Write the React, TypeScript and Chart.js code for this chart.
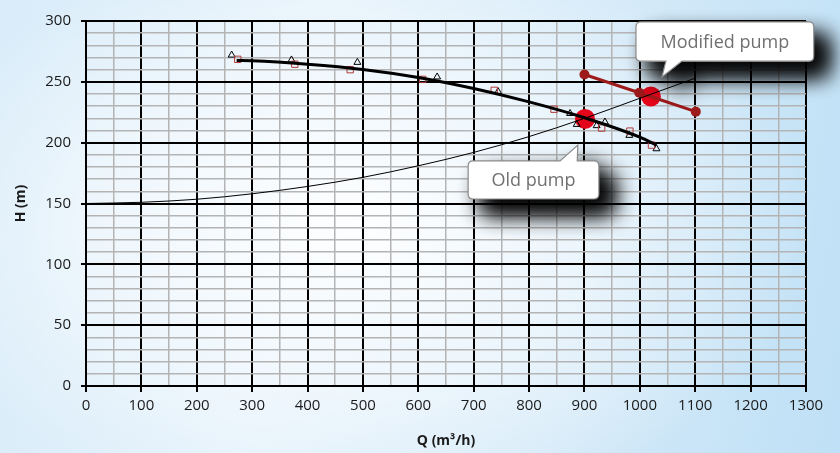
import React, { useEffect, useRef } from "react";
import { Chart, registerables } from "chart.js";

Chart.register(...registerables);

// Fitted old-pump curve (Q, H)
const fitQ = [272, 300, 400, 500, 600, 700, 800, 900, 1000, 1030];
const fitH = [267.5, 267.3, 264.5, 260.2, 253.6, 244.5, 233.5, 220.5, 204.5, 198];

// Measured points, series A (triangles)
const triQ = [263, 371, 490, 634, 744, 874, 886, 922, 937, 981, 1030];
const triH = [272, 268, 266, 254, 242, 224, 215, 214, 217, 206, 195];

// Measured points, series B (squares)
const sqQ = [274, 377, 477, 608, 737, 845, 931, 982, 1021];
const sqH = [268.5, 264.5, 260, 252, 243, 227.5, 212, 209.5, 198];

// System curve
const sysQ = [0, 100, 200, 300, 400, 500, 600, 700, 800, 900, 1000, 1100];
const sysH = [150, 151, 153.5, 158, 164, 171.5, 181, 192, 205, 220, 236.5, 253];

// Modified pump curve
const modQ = [900, 999, 1101];
const modH = [256, 241, 225.5];

// Operating points
const opQ = [901, 1020];
const opH = [219.5, 238];

// Callouts (data units): label, box [x1, x2, yTop, yBottom], tip [x, y], pointer base [x1, x2], side
const calloutLabels = ["Old pump", "Modified pump"];
const calloutBoxes = [
  [690, 926, 185, 153.7],
  [993, 1314, 299.2, 267],
];
const calloutTips = [
  [888, 198],
  [1040, 254],
];
const calloutBases = [
  [856, 887],
  [1047, 1076],
];
const calloutSides = ["top", "bottom"];

const xTicksMax = 1300;
const yTicksMax = 300;

const zip = (xs: number[], ys: number[]) => xs.map((x, i) => ({ x, y: ys[i] }));

const calloutPlugin = {
  id: "callouts",
  afterDatasetsDraw(chart: any) {
    const { ctx, scales } = chart;
    const sx = scales.x;
    const sy = scales.y;
    calloutLabels.forEach((label, i) => {
      const [bx1, bx2, byT, byB] = calloutBoxes[i];
      const l = sx.getPixelForValue(bx1);
      const r = sx.getPixelForValue(bx2);
      const t = sy.getPixelForValue(byT);
      const b = sy.getPixelForValue(byB);
      const tipX = sx.getPixelForValue(calloutTips[i][0]);
      const tipY = sy.getPixelForValue(calloutTips[i][1]);
      const p1 = sx.getPixelForValue(calloutBases[i][0]);
      const p2 = sx.getPixelForValue(calloutBases[i][1]);
      const rad = 5;
      const path = () => {
        ctx.beginPath();
        ctx.moveTo(l + rad, t);
        if (calloutSides[i] === "top") {
          ctx.lineTo(p1, t);
          ctx.lineTo(tipX, tipY);
          ctx.lineTo(p2, t);
        }
        ctx.lineTo(r - rad, t);
        ctx.quadraticCurveTo(r, t, r, t + rad);
        ctx.lineTo(r, b - rad);
        ctx.quadraticCurveTo(r, b, r - rad, b);
        if (calloutSides[i] === "bottom") {
          ctx.lineTo(p2, b);
          ctx.lineTo(tipX, tipY);
          ctx.lineTo(p1, b);
        }
        ctx.lineTo(l + rad, b);
        ctx.quadraticCurveTo(l, b, l, b - rad);
        ctx.lineTo(l, t + rad);
        ctx.quadraticCurveTo(l, t, l + rad, t);
        ctx.closePath();
      };
      for (let k = 0; k < 2; k++) {
        ctx.save();
        ctx.shadowColor = "rgba(0,0,0,0.9)";
        ctx.shadowBlur = 22;
        ctx.shadowOffsetX = 14;
        ctx.shadowOffsetY = 14;
        path();
        ctx.fillStyle = "#ffffff";
        ctx.fill();
        ctx.restore();
      }
      ctx.save();
      path();
      ctx.fillStyle = "#ffffff";
      ctx.fill();
      ctx.lineWidth = 1.2;
      ctx.strokeStyle = "#8a8a8a";
      ctx.stroke();
      ctx.fillStyle = "#707070";
      ctx.font = "18px 'Open Sans', sans-serif";
      ctx.textAlign = "center";
      ctx.textBaseline = "middle";
      ctx.fillText(label, (l + r) / 2, (t + b) / 2 + 1);
      ctx.restore();
    });
  },
};

export default function App() {
  const ref = useRef<HTMLCanvasElement | null>(null);

  useEffect(() => {
    document.body.style.margin = "0";
    const canvas = ref.current;
    if (!canvas) return;
    const chart = new Chart(canvas, {
      type: "line",
      data: {
        datasets: [
          {
            label: "System",
            data: zip(sysQ, sysH),
            borderColor: "#000000",
            borderWidth: 1,
            pointRadius: 0,
            cubicInterpolationMode: "monotone",
            fill: false,
          },
          {
            label: "Fit",
            data: zip(fitQ, fitH),
            borderColor: "#000000",
            borderWidth: 3,
            pointRadius: 0,
            cubicInterpolationMode: "monotone",
            fill: false,
          },
          {
            label: "Squares",
            data: zip(sqQ, sqH),
            showLine: false,
            pointStyle: "rect",
            pointRadius: 4.5,
            pointBorderWidth: 1,
            pointBorderColor: "#b03a3a",
            pointBackgroundColor: "rgba(0,0,0,0)",
          },
          {
            label: "Triangles",
            data: zip(triQ, triH),
            showLine: false,
            pointStyle: "triangle",
            pointRadius: 4,
            pointBorderWidth: 1,
            pointBorderColor: "#000000",
            pointBackgroundColor: "rgba(0,0,0,0)",
          },
          {
            label: "Modified",
            data: zip(modQ, modH),
            borderColor: "#9e1b1b",
            borderWidth: 3,
            pointRadius: 5,
            pointBackgroundColor: "#9e1b1b",
            pointBorderColor: "#9e1b1b",
            pointBorderWidth: 0,
            fill: false,
          },
          {
            label: "Operating",
            data: zip(opQ, opH),
            showLine: false,
            pointRadius: 10,
            pointBackgroundColor: "#e3061b",
            pointBorderColor: "#e3061b",
            pointBorderWidth: 0,
          },
        ],
      },
      options: {
        responsive: false,
        animation: false,
        events: [],
        layout: { padding: { left: 0, right: 34, top: 21, bottom: 0 } },
        plugins: {
          legend: { display: false },
          tooltip: { enabled: false },
        },
        scales: {
          x: {
            type: "linear",
            min: 0,
            max: xTicksMax,
            afterFit: (s: any) => {
              s.height = 67;
            },
            border: { display: true, color: "#000000", width: 2 },
            grid: {
              color: (c: any) => (c.tick && c.tick.value % 100 === 0 ? "#000000" : "#b4b4b4"),
              lineWidth: (c: any) => (c.tick && c.tick.value % 100 === 0 ? 2 : 1.5),
              tickColor: (c: any) => (c.tick && c.tick.value % 100 === 0 ? "#000000" : "rgba(0,0,0,0)"),
              tickLength: 6,
              tickWidth: 2,
            },
            ticks: {
              stepSize: 50,
              autoSkip: false,
              maxRotation: 0,
              padding: 5,
              color: "#1a1a1a",
              font: { family: "'Open Sans', sans-serif", size: 15 },
              callback: (v: any) => (Number(v) % 100 === 0 ? String(v) : ""),
            },
            title: {
              display: true,
              text: "Q (m³/h)",
              color: "#1a1a1a",
              font: { family: "'Open Sans', sans-serif", size: 14, weight: "bold" },
              padding: { top: 0, bottom: 4 },
            },
          },
          y: {
            type: "linear",
            min: 0,
            max: yTicksMax,
            afterFit: (s: any) => {
              s.width = 86;
            },
            border: { display: true, color: "#000000", width: 2 },
            grid: {
              color: (c: any) => (c.tick && c.tick.value % 50 === 0 ? "#000000" : "#b4b4b4"),
              lineWidth: (c: any) => (c.tick && c.tick.value % 50 === 0 ? 2 : 1.5),
              tickColor: (c: any) => (c.tick && c.tick.value % 50 === 0 ? "#000000" : "rgba(0,0,0,0)"),
              tickLength: 5,
              tickWidth: 2,
            },
            ticks: {
              stepSize: 10,
              autoSkip: false,
              padding: 10,
              color: "#1a1a1a",
              font: { family: "'Open Sans', sans-serif", size: 15 },
              callback: (v: any) => (Number(v) % 50 === 0 ? String(v) : ""),
            },
            title: {
              display: true,
              text: "H (m)",
              color: "#1a1a1a",
              font: { family: "'Open Sans', sans-serif", size: 14, weight: "bold" },
              padding: { top: 13, bottom: 0 },
            },
          },
        },
      },
      plugins: [calloutPlugin],
    } as any);
    return () => chart.destroy();
  }, []);

  return (
    <div
      style={{
        width: 840,
        height: 453,
        position: "relative",
        background:
          "radial-gradient(ellipse 55% 65% at 42% 50%, rgba(255,255,255,0.95) 0%, rgba(255,255,255,0.5) 55%, rgba(255,255,255,0) 100%), linear-gradient(100deg, #d9ecf9 0%, #e3f1fb 35%, #d3e9f8 70%, #bfe0f6 100%)",
      }}
    >
      <canvas ref={ref} width={840} height={453} style={{ display: "block" }} />
    </div>
  );
}
